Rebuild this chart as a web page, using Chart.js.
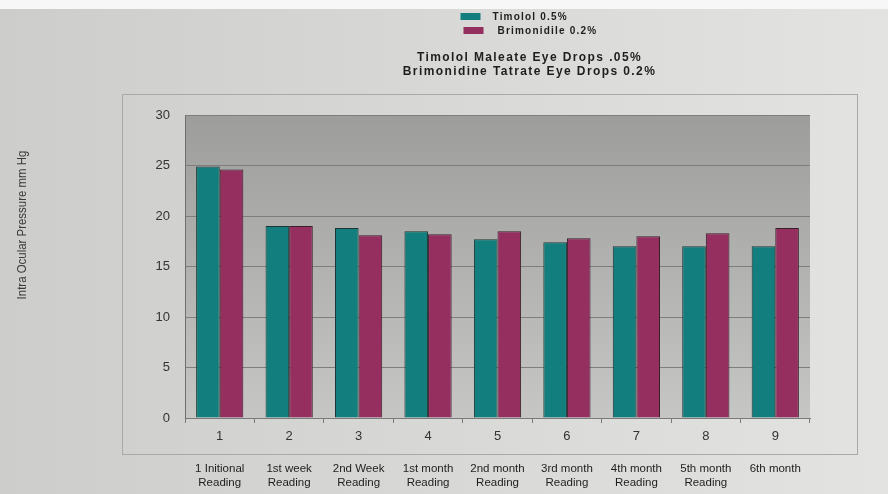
<!DOCTYPE html>
<html lang="en">
    <head>
        <meta charset="UTF-8" />
        <title>Timolol vs Brimonidine - IOP</title>
        <script src="https://cdn.jsdelivr.net/npm/chart.js"></script>
        <style>
            html, body { margin: 0; padding: 0; background: #d9d9d7; }
            #wrap { width: 888px; height: 494px; }
        </style>
    </head>
    <body>
        <div id="wrap"><canvas id="iop" width="888" height="494"></canvas></div>

        <script>
            const visits = ["1", "2", "3", "4", "5", "6", "7", "8", "9"];
            const readings = [
                ["1 Initional", "Reading"],
                ["1st week", "Reading"],
                ["2nd Week", "Reading"],
                ["1st month", "Reading"],
                ["2nd month", "Reading"],
                ["3rd month", "Reading"],
                ["4th month", "Reading"],
                ["5th month", "Reading"],
                ["6th month"],
            ];
            const timolol = [24.9, 19.0, 18.8, 18.5, 17.7, 17.4, 17.0, 17.0, 17.0];
            const brimonidine = [24.6, 19.0, 18.1, 18.2, 18.5, 17.8, 18.0, 18.3, 18.8];
            const yTicks = [0, 5, 10, 15, 20, 25, 30];

            const textFont = "'Liberation Sans', Arial, sans-serif";

            // fondo de pagina, marco y area gris
            const fondo = {
                id: "fondo",
                beforeDraw(chart) {
                    const { ctx, chartArea: a, width, height } = chart;
                    ctx.save();
                    const g = ctx.createLinearGradient(0, 0, width, 0);
                    g.addColorStop(0, "#cdcdcb");
                    g.addColorStop(1, "#e3e3e1");
                    ctx.fillStyle = g;
                    ctx.fillRect(0, 0, width, height);
                    ctx.fillStyle = "#f7f7f7";
                    ctx.fillRect(0, 0, width, 9);

                    // marco del grafico
                    ctx.strokeStyle = "#a9a9a7";
                    ctx.lineWidth = 1;
                    ctx.strokeRect(a.left - 62.5, a.top - 20.5, a.right - a.left + 110, a.bottom - a.top + 57);

                    const p = ctx.createLinearGradient(0, a.top, 0, a.bottom);
                    p.addColorStop(0, "#9d9d9b");
                    p.addColorStop(1, "#c6c6c4");
                    ctx.fillStyle = p;
                    ctx.fillRect(a.left, a.top, a.right - a.left, a.bottom - a.top);
                    ctx.restore();
                },
            };

            // leyenda, titulo y titulo del eje Y
            const textos = {
                id: "textos",
                afterDraw(chart) {
                    const { ctx, chartArea: a } = chart;
                    const cx = (a.left + a.right) / 2;
                    ctx.save();
                    ctx.textBaseline = "middle";
                    chart.data.datasets.forEach((ds, i) => {
                        const y = 16 + i * 14;
                        ctx.fillStyle = ds.backgroundColor;
                        ctx.fillRect(cx - 37 + i * 3, y - 3, 20, 7);
                        ctx.fillStyle = "#1e1e1e";
                        ctx.font = "bold 10px " + textFont;
                        ctx.letterSpacing = "1.2px";
                        ctx.textAlign = "left";
                        ctx.fillText(ds.label, cx - 5 + i * 5, y + 1);
                    });
                    ctx.font = "bold 12px " + textFont;
                    ctx.letterSpacing = "1.4px";
                    ctx.textAlign = "center";
                    ctx.fillText("Timolol Maleate Eye Drops .05%", cx + 32, 58);
                    ctx.fillText("Brimonidine Tatrate Eye Drops 0.2%", cx + 32, 72);

                    ctx.letterSpacing = "0px";
                    ctx.translate(22, 225);
                    ctx.rotate(-Math.PI / 2);
                    ctx.scale(0.88, 1);
                    ctx.font = "13px " + textFont;
                    ctx.fillStyle = "#3a3a3a";
                    ctx.fillText("Intra Ocular Pressure mm Hg", 0, 0);
                    ctx.restore();
                },
            };

            const ctx = document.getElementById("iop").getContext("2d");
            new Chart(ctx, {
                type: "bar",
                data: {
                    labels: visits,
                    datasets: [
                        {
                            label: "Timolol 0.5%",
                            data: timolol,
                            backgroundColor: "#127f7e",
                            borderColor: "#1d3535",
                            borderWidth: 1,
                        },
                        {
                            label: "Brimonidile 0.2%",
                            data: brimonidine,
                            backgroundColor: "#952f60",
                            borderColor: "#3a1f2c",
                            borderWidth: 1,
                        },
                    ],
                },
                options: {
                    responsive: false,
                    animation: false,
                    layout: { padding: { top: 115, right: 78, bottom: 4, left: 0 } },
                    categoryPercentage: 0.68,
                    barPercentage: 1.0,
                    plugins: {
                        legend: { display: false },
                        title: { display: false },
                        tooltip: { enabled: false },
                    },
                    scales: {
                        x: {
                            afterFit: (s) => { s.height = 28; },
                            grid: { drawOnChartArea: false, tickLength: 5, color: "#7a7a7a" },
                            border: { color: "#7a7a7a" },
                            ticks: { color: "#333", font: { size: 13, family: textFont }, padding: 6 },
                        },
                        x2: {
                            type: "category",
                            position: "bottom",
                            labels: readings,
                            afterFit: (s) => { s.height = 44; },
                            grid: { display: false },
                            border: { display: false },
                            ticks: { color: "#1e1e1e", font: { size: 11.5, family: textFont }, padding: 8 },
                        },
                        y: {
                            min: 0,
                            max: 30,
                            afterFit: (s) => { s.width = 185; },
                            afterBuildTicks: (s) => { s.ticks = yTicks.map((v) => ({ value: v })); },
                            grid: { color: "#7e7e7c", drawTicks: false },
                            border: { color: "#6e6e6e" },
                            ticks: { color: "#333", font: { size: 13, family: textFont }, padding: 15 },
                        },
                    },
                },
                plugins: [fondo, textos],
            });
        </script>
    </body>
</html>
